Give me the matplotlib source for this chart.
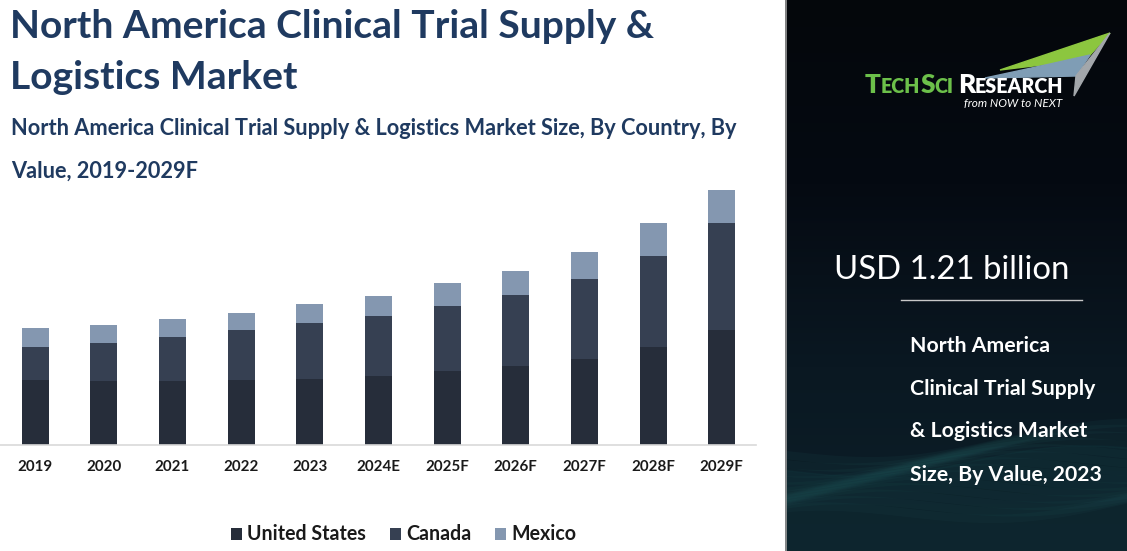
import matplotlib
matplotlib.use('Agg')
import matplotlib.pyplot as plt
import numpy as np
from matplotlib.patches import Polygon
from matplotlib.colors import LinearSegmentedColormap

# ---------------- data ----------------
years = ['2019', '2020', '2021', '2022', '2023', '2024E', '2025F', '2026F', '2027F', '2028F', '2029F']
us = [0.558, 0.552, 0.552, 0.560, 0.566, 0.592, 0.638, 0.678, 0.738, 0.844, 0.987]
canada = [0.286, 0.326, 0.372, 0.424, 0.481, 0.517, 0.555, 0.609, 0.684, 0.778, 0.921]
mexico = [0.163, 0.152, 0.154, 0.148, 0.163, 0.169, 0.195, 0.209, 0.237, 0.286, 0.278]
series_names = ['United States', 'Canada', 'Mexico']
market_value_text = 'USD 1.21 billion'
title_lines = ['North America Clinical Trial Supply &', 'Logistics Market']
subtitle_lines = ['North America Clinical Trial Supply & Logistics Market Size, By Country, By',
                  'Value, 2019-2029F']
panel_lines = ['North America', 'Clinical Trial Supply', '& Logistics Market', 'Size, By Value, 2023']

# ---------------- styles ----------------
C_US, C_CA, C_MX = '#262d3a', '#364052', '#8497b0'
TITLE_C = '#1f3a60'
FONT = 'Lato'

W, H = 1127, 551
fig = plt.figure(figsize=(W / 100, H / 100), dpi=100)
fig.patch.set_facecolor('white')
renderer = fig.canvas.get_renderer()


def fx(px):
    return px / W


def fy(py):
    return 1 - py / H


def width_of(s, size, weight='bold', style='normal'):
    t = fig.text(0, 0, s, fontsize=size, family=FONT, weight=weight, style=style)
    w = t.get_window_extent(renderer).width
    t.remove()
    return w


def fit_size(s, target_w, weight='bold', style='normal', size0=20):
    return size0 * target_w / width_of(s, size0, weight, style)


# ---------------- main chart ----------------
slot = 68.68
x0 = 35.0
base_px, top_px, right_px = 445, 180, 756
scale = 1.21 / 141.0  # value per pixel
ax = fig.add_axes([0, fy(base_px), fx(right_px), (base_px - top_px) / H])
ax.set_facecolor('none')
xs = np.arange(len(years))
bw = 27 / slot
us_a, ca_a, mx_a = np.array(us), np.array(canada), np.array(mexico)
b1 = ax.bar(xs, us_a, bw, color=C_US, label=series_names[0])
b2 = ax.bar(xs, ca_a, bw, bottom=us_a, color=C_CA, label=series_names[1])
b3 = ax.bar(xs, mx_a, bw, bottom=us_a + ca_a, color=C_MX, label=series_names[2])
ax.set_xlim(-x0 / slot, (right_px - x0) / slot)
ax.set_ylim(0, (base_px - top_px) * scale)
for s in ['top', 'right', 'left']:
    ax.spines[s].set_visible(False)
ax.spines['bottom'].set_color('#d9d9d9')
ax.spines['bottom'].set_linewidth(1.2)
ax.set_yticks([])
ax.set_xticks(xs)
tick_fs = fit_size('2019', 35)
ax.set_xticklabels(years, fontsize=tick_fs, family=FONT, weight='bold', color='#1a1a1a')
ax.tick_params(axis='x', length=0, pad=11)

# ---------------- titles ----------------
t_fs = fit_size(title_lines[0], 643)
fig.text(fx(10), fy(38.3), title_lines[0], fontsize=t_fs, family=FONT, weight='bold',
         color=TITLE_C, va='baseline', ha='left')
fig.text(fx(10), fy(89.3), title_lines[1], fontsize=t_fs, family=FONT, weight='bold',
         color=TITLE_C, va='baseline', ha='left')
s_fs = fit_size(subtitle_lines[0], 726)
fig.text(fx(11), fy(135), subtitle_lines[0], fontsize=s_fs, family=FONT, weight='bold',
         color=TITLE_C, va='baseline', ha='left')
fig.text(fx(11), fy(177.3), subtitle_lines[1], fontsize=s_fs, family=FONT, weight='bold',
         color=TITLE_C, va='baseline', ha='left')

# ---------------- legend ----------------
leg_fs = fit_size('United States', 118.7)
em = leg_fs * 100 / 72
leg = fig.legend(handles=[b1, b2, b3], labels=series_names, loc='center',
                 bbox_to_anchor=(fx(403.7), fy(534.5)), ncol=3, frameon=False,
                 prop={'family': FONT, 'weight': 'bold', 'size': leg_fs},
                 handlelength=11 / em, handleheight=11 / em, handletextpad=5.3 / em,
                 columnspacing=24 / em, borderpad=0, borderaxespad=0)
for t in leg.get_texts():
    t.set_color('#1a1a1a')

# ---------------- right panel ----------------
px0 = 785
pax = fig.add_axes([fx(px0), 0, 1 - fx(px0), 1])
pax.set_xlim(px0, W)
pax.set_ylim(H, 0)
pax.axis('off')
grad = np.linspace(0, 1, 256)[:, None]
cmap = LinearSegmentedColormap.from_list('bg', ['#04070b', '#050a12', '#0a1822', '#0d2029'])
pax.imshow(grad, cmap=cmap, extent=[px0, W, H, 0], aspect='auto', zorder=0)
# soft teal waves near the bottom
xx = np.linspace(px0, W, 200)
for k in range(14):
    yy = 455 + 12 * np.sin((xx - px0) / 70 + k * 0.35) - (xx - px0) * 0.06 + k * 5
    pax.plot(xx, yy, color='#2f7f7f', alpha=0.07, lw=6, zorder=1)
pax.fill_between(xx, 470 - (xx - px0) * 0.05 + 10 * np.sin((xx - px0) / 60), H,
                 color='#123a40', alpha=0.25, zorder=1)
pax.axvline(px0 + 0.5, color='#9a9a9a', lw=1.2, zorder=3)

# logo triangle
pax.add_patch(Polygon([(1000, 70), (1110, 33), (1090, 55), (1050, 64)], closed=True,
                      color='#8cc63f', zorder=2))
pax.add_patch(Polygon([(985, 78), (1050, 64), (1090, 55), (1076, 76)], closed=True,
                      color='#7f9db5', zorder=2))
pax.add_patch(Polygon([(1076, 76), (1110, 33), (1074, 96)], closed=True,
                      color='#a3a7ab', zorder=2))

# logo text (small caps)
pieces = [('T', 1.0, '#6cc04a'), ('ECH', 0.75, '#6cc04a'), ('S', 1.0, '#6cc04a'),
          ('CI', 0.75, '#6cc04a'), (' ', 0.75, '#ffffff'), ('R', 1.0, '#ffffff'),
          ('ESEARCH', 0.75, '#ffffff')]
base_size = 12.0
tot = sum(width_of(p, base_size * f) for p, f, c in pieces)
k = (1063 - 865) / tot
cx = 865.0
for p, f, c in pieces:
    sz = base_size * f * k
    pax.text(cx, 93, p, fontsize=sz, family=FONT, weight='heavy', color=c,
             va='baseline', ha='left', zorder=4)
    cx += width_of(p, sz)
tag_fs = fit_size('from NOW to NEXT', 98, weight='normal', style='italic')
pax.text(964, 106.5, 'from NOW to NEXT', fontsize=tag_fs, family=FONT, style='italic',
         color='#ffffff', va='baseline', ha='left', zorder=4)

# market value
mv_fs = fit_size(market_value_text, 236, weight='normal')
pax.text(834, 279.3, market_value_text, fontsize=mv_fs, family=FONT, weight='normal',
         color='#ffffff', va='baseline', ha='left', zorder=4)
pax.plot([901, 1082], [300.3, 300.3], color='#c8c8c8', lw=1, zorder=4)

p_fs = fit_size(panel_lines[3], 192)
for line, yb in zip(panel_lines, [351.7, 395, 437.3, 481]):
    pax.text(910, yb, line, fontsize=p_fs, family=FONT, weight='bold', color='#ffffff',
             va='baseline', ha='left', zorder=4)

fig.savefig('out.png', dpi=100, facecolor=fig.get_facecolor())
